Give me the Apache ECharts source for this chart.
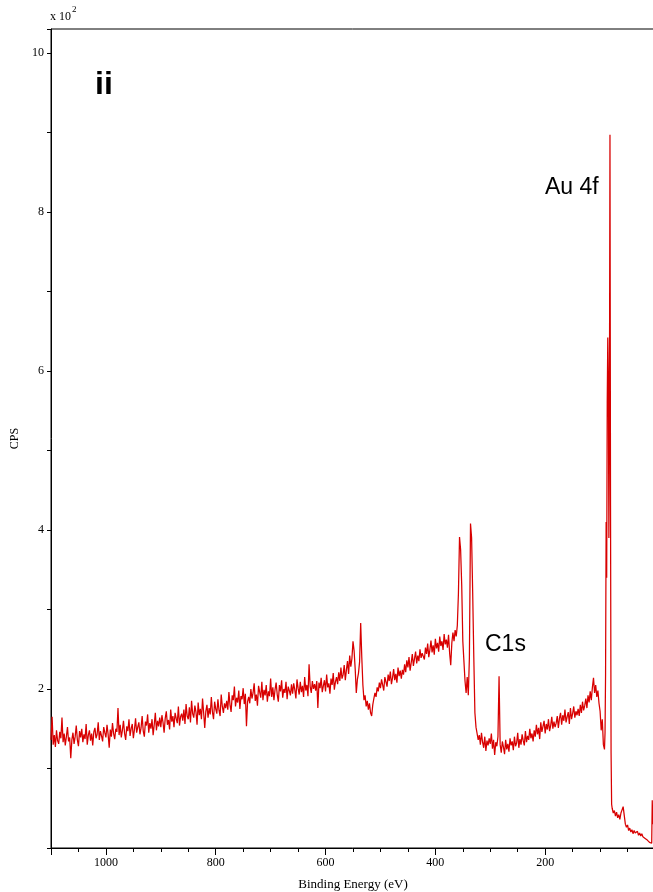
<!DOCTYPE html>
<html>
<head>
<meta charset="utf-8">
<script src="https://cdn.jsdelivr.net/npm/echarts@6/dist/echarts.min.js"></script>
<style>
html, body { margin: 0; padding: 0; background: #fff; }
#surveyChart { width: 653px; height: 892px; }
</style>
</head>
<body>
<div id="surveyChart"></div>
<script>
// survey scan, CPS in units of 10^2, binding energy in eV (2 eV steps)
var step = 2;
var cpsHigh = [ // 1100 -> 702 eV
    1.36, 1.65, 1.30, 1.42, 1.27, 1.48, 1.35, 1.31, 1.46, 1.38, 1.64, 1.33, 1.44, 1.29, 1.40, 1.52, 1.34, 1.39, 1.13, 1.36,
    1.45, 1.31, 1.40, 1.54, 1.36, 1.28, 1.47, 1.39, 1.50, 1.33, 1.43, 1.37, 1.56, 1.30, 1.42, 1.48, 1.35, 1.44, 1.29, 1.46,
    1.51, 1.38, 1.43, 1.58, 1.36, 1.47, 1.41, 1.34, 1.52, 1.45, 1.39, 1.55, 1.43, 1.26, 1.49, 1.40, 1.57, 1.44, 1.37, 1.50,
    1.46, 1.76, 1.42, 1.55, 1.39, 1.48, 1.60, 1.44, 1.36, 1.53, 1.47, 1.62, 1.41, 1.50, 1.56, 1.38, 1.49, 1.63, 1.45, 1.52,
    1.58, 1.43, 1.51, 1.66, 1.47, 1.40, 1.59, 1.54, 1.68, 1.45, 1.57, 1.50, 1.62, 1.42, 1.55, 1.70, 1.48, 1.60, 1.53, 1.64,
    1.52, 1.67, 1.58, 1.45, 1.63, 1.72, 1.55, 1.61, 1.49, 1.74, 1.59, 1.66, 1.52, 1.70, 1.63, 1.57, 1.78, 1.54, 1.65, 1.69,
    1.60, 1.74, 1.56, 1.81, 1.66, 1.62, 1.77, 1.58, 1.85, 1.69, 1.64, 1.79, 1.71, 1.55, 1.83, 1.67, 1.75, 1.62, 1.88, 1.70,
    1.51, 1.72, 1.80, 1.64, 1.76, 1.68, 1.90, 1.71, 1.62, 1.84, 1.75, 1.69, 1.87, 1.73, 1.66, 1.93, 1.78, 1.70, 1.82, 1.76,
    1.85, 1.74, 1.96, 1.80, 1.71, 1.92, 1.86, 2.03, 1.78, 1.89, 1.83, 1.98, 1.75, 1.91, 1.87, 2.01, 1.81, 1.94, 1.53, 1.84,
    1.90, 1.82, 2.00, 1.88, 1.95, 2.07, 1.85, 1.93, 1.79, 2.04, 1.96, 1.89, 2.09, 1.86, 1.99, 1.92, 2.05, 1.84, 1.97, 1.91
];
var cpsMid = [ // 700 -> 302 eV
    2.13, 1.90, 2.02, 1.86, 1.99, 2.08, 1.93, 1.84, 2.05, 1.97, 2.11, 1.89, 2.00, 1.95, 2.09, 1.87, 2.03, 1.98, 1.92, 2.06,
    1.94, 2.07, 1.99, 1.88, 2.12, 2.01, 1.93, 2.09, 1.96, 2.04, 1.90, 2.15, 1.98, 2.05, 1.91, 2.31, 2.03, 1.95, 2.10, 2.00,
    2.06, 1.98, 2.10, 1.76, 2.08, 2.01, 2.14, 1.96, 2.04, 2.11, 1.97, 2.18, 2.02, 2.07, 1.94, 2.13, 2.05, 2.20, 1.99, 2.09,
    2.15, 2.06, 2.21, 2.10, 2.27, 2.13, 2.18, 2.30, 2.11, 2.24, 2.35, 2.19, 2.42, 2.28, 2.38, 2.60, 2.48, 2.25, 1.95, 2.12,
    2.20, 2.34, 2.83, 2.40, 2.05, 1.86, 1.92, 1.78, 1.85, 1.74, 1.82, 1.70, 1.66, 1.80, 1.88, 1.95, 1.90, 2.02, 1.97, 2.08,
    2.01, 2.12, 2.05, 1.98, 2.15, 2.09, 2.03, 2.18, 2.10, 2.22, 2.06, 2.14, 2.25, 2.11, 2.19, 2.08, 2.27, 2.16, 2.23, 2.13,
    2.24, 2.18, 2.31, 2.21, 2.36, 2.27, 2.40, 2.23, 2.33, 2.44, 2.29, 2.38, 2.47, 2.32, 2.42, 2.35, 2.50, 2.39, 2.45, 2.41,
    2.37, 2.52, 2.44, 2.57, 2.40, 2.49, 2.61, 2.46, 2.55, 2.43, 2.63, 2.51, 2.58, 2.47, 2.66, 2.54, 2.60, 2.49, 2.69, 2.56,
    2.62, 2.52, 2.68, 2.45, 2.30, 2.58, 2.71, 2.60, 2.74, 2.66, 2.80, 3.20, 3.91, 3.75, 3.30, 2.60, 2.35, 2.10, 1.95, 2.15,
    1.92, 2.40, 4.08, 3.90, 3.20, 2.40, 1.70, 1.52, 1.44, 1.36, 1.42, 1.30, 1.45, 1.33, 1.26, 1.40, 1.22, 1.35, 1.29, 1.38
];
var cpsLow = [ // 300 -> 100 eV
    1.31, 1.44, 1.25, 1.36, 1.17, 1.33, 1.28, 1.40, 2.16, 1.30, 1.20, 1.34, 1.27, 1.18, 1.36, 1.24, 1.31, 1.21, 1.38, 1.29,
    1.34, 1.23, 1.40, 1.28, 1.32, 1.45, 1.26, 1.37, 1.30, 1.43, 1.35, 1.29, 1.47, 1.33, 1.41, 1.36, 1.50, 1.38, 1.44, 1.34,
    1.48, 1.40, 1.55, 1.43, 1.51, 1.37, 1.58, 1.46, 1.53, 1.60, 1.44, 1.56, 1.49, 1.62, 1.47, 1.54, 1.65, 1.50, 1.59, 1.52,
    1.57, 1.66, 1.51, 1.63, 1.70, 1.55, 1.67, 1.60, 1.74, 1.58, 1.65, 1.71, 1.56, 1.76, 1.62, 1.69, 1.78, 1.64, 1.72, 1.67,
    1.75, 1.66, 1.80, 1.70, 1.84, 1.73, 1.79, 1.88, 1.76, 1.92, 1.83, 1.97, 1.86, 2.02, 2.14, 1.95, 2.05, 1.90, 1.98, 1.82,
    1.72
];
var au4fEnergy = [98, 96, 94, 92, 91, 90, 89, 88, 87, 86, 85, 84, 83, 82, 81, 80, 79,
    78, 76, 74, 72, 70, 68, 66, 64, 62, 60, 58, 56, 54, 52, 50, 48, 46, 44, 42, 40,
    38, 36, 34, 32, 30, 28, 26, 24, 22, 20, 18, 16, 14, 12, 10, 8, 6, 5, 4];
var au4fCps = [1.48, 1.62, 1.30, 1.24, 1.45, 2.20, 4.10, 3.40, 5.60, 6.42, 5.90, 3.90, 5.50, 8.97, 4.30, 1.20, 0.55,
    0.50, 0.44, 0.47, 0.40, 0.45, 0.38, 0.42, 0.36, 0.44, 0.48, 0.52, 0.41, 0.30, 0.26, 0.29, 0.22, 0.25, 0.20, 0.23, 0.18,
    0.22, 0.19, 0.17, 0.21, 0.16, 0.19, 0.15, 0.18, 0.14, 0.16, 0.12, 0.14, 0.10, 0.11, 0.07, 0.09, 0.06, 0.60, 0.30];

var xLabels = [1000, 800, 600, 400, 200];
var yLabels = [2, 4, 6, 8, 10];

function toPoints(start, values) {
    return values.map(function (v, i) { return [start - step * i, v]; });
}
var survey = toPoints(1100, cpsHigh)
    .concat(toPoints(700, cpsMid))
    .concat(toPoints(300, cpsLow))
    .concat(au4fEnergy.map(function (e, i) { return [e, au4fCps[i]]; }));

var serif = 'Liberation Serif';

var surveyChart = echarts.init(document.getElementById('surveyChart'));
option = {
    animation: false,
    grid: {
        left: 51,
        right: -2,
        top: 29,
        bottom: 44,
        outerBoundsMode: 'none',
        containLabel: false,
        show: true,
        borderColor: '#000',
        borderWidth: 1
    },
    xAxis: [
        {
            type: 'value',
            min: 0,
            max: 1100,
            inverse: true,
            interval: 200,
            name: 'Binding Energy (eV)',
            nameLocation: 'middle',
            nameGap: 30,
            nameTextStyle: { fontFamily: serif, fontSize: 13, color: '#000' },
            axisLine: { show: true, onZero: false, lineStyle: { color: '#000', width: 1 } },
            axisTick: { length: 7, lineStyle: { color: '#000' } },
            axisLabel: {
                fontFamily: serif, fontSize: 12, color: '#000', margin: 9,
                formatter: function (v) { return xLabels.indexOf(v) >= 0 ? String(v) : ''; }
            },
            splitLine: { show: false }
        },
        {
            type: 'value',
            min: 0,
            max: 1100,
            inverse: true,
            interval: 50,
            position: 'bottom',
            axisLine: { show: false, onZero: false },
            axisTick: { length: 4, lineStyle: { color: '#000' } },
            axisLabel: { show: false },
            splitLine: { show: false }
        }
    ],
    yAxis: {
        type: 'value',
        min: 0,
        max: 10.3,
        interval: 1,
        position: 'left',
        name: 'CPS',
        nameLocation: 'middle',
        nameGap: 28,
        nameTextStyle: { fontFamily: serif, fontSize: 12, color: '#000' },
        axisLine: { show: true, onZero: false, lineStyle: { color: '#000', width: 1 } },
        axisTick: { length: 4, lineStyle: { color: '#000' } },
        axisLabel: {
            fontFamily: serif, fontSize: 12, color: '#000', margin: 7,
            formatter: function (v) { return yLabels.indexOf(v) >= 0 ? String(v) : ''; }
        },
        splitLine: { show: false }
    },
    series: [
        {
            type: 'line',
            xAxisIndex: 0,
            data: survey,
            showSymbol: false,
            symbol: 'none',
            lineStyle: { color: '#d80000', width: 1.25 }
        }
    ],
    graphic: [
        { type: 'text', left: 50, top: 11, style: { text: 'x 10', font: '12px "Liberation Serif"', fill: '#000' } },
        { type: 'text', left: 72, top: 5, style: { text: '2', font: '9px "Liberation Serif"', fill: '#000' } },
        { type: 'text', x: 95, y: 85, style: { text: 'ii', font: 'bold 32px "Liberation Sans"', fill: '#000', verticalAlign: 'middle' } },
        { type: 'text', x: 545, y: 188, style: { text: 'Au 4f', font: '23px "Liberation Sans"', fill: '#000', verticalAlign: 'middle' } },
        { type: 'text', x: 485, y: 645, style: { text: 'C1s', font: '23px "Liberation Sans"', fill: '#000', verticalAlign: 'middle' } }
    ]
};

surveyChart.setOption(option);
</script>
</body>
</html>
